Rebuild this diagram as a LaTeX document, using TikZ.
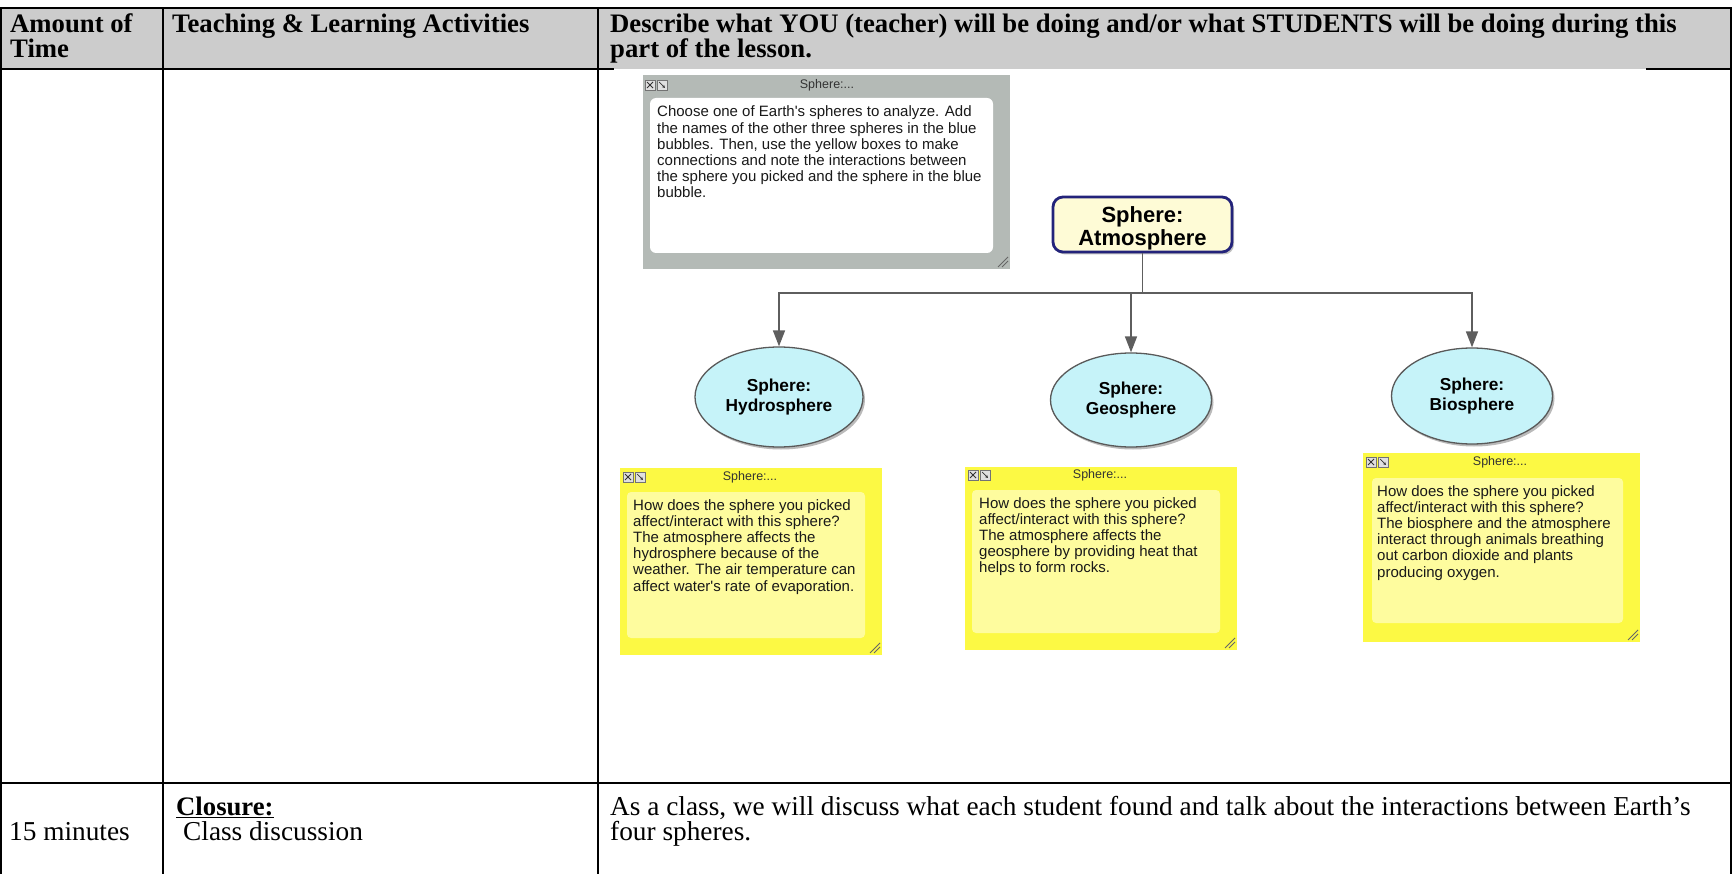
\documentclass[tikz,border=0pt]{standalone}
\usepackage{fontspec}
\setmainfont{Liberation Serif}
\newfontfamily\tabfont{Liberation Serif}
\newfontfamily\notefont{Liberation Sans}
\usetikzlibrary{shapes.geometric,arrows.meta,shadows}
\definecolor{hdrgray}{HTML}{CCCCCC}
\definecolor{notegray}{HTML}{B4BAB6}
\definecolor{yelout}{HTML}{FCF944}
\definecolor{yelin}{HTML}{FEFC9E}
\definecolor{cyanfill}{HTML}{C6F3F9}
\definecolor{atmfill}{HTML}{FEFBD6}
\definecolor{navy}{HTML}{23237A}
\definecolor{connc}{HTML}{5E5E5E}
\begin{document}
\begin{tikzpicture}[x=1pt,y=-1pt,
  tabline/.style={line width=1.8pt,black},
  hdr/.style={font=\tabfont\bfseries\fontsize{26.7}{25}\selectfont,anchor=base west,inner sep=0pt},
  bodytxt/.style={font=\tabfont\fontsize{27.3}{25}\selectfont,anchor=base west,inner sep=0pt},
  ntext/.style={font=\notefont\fontsize{15}{16}\selectfont,anchor=base west,inner sep=0pt,text=black!90},
  ntitle/.style={font=\notefont\fontsize{12.5}{14}\selectfont,inner sep=0pt,text=black!80},
  sphere/.style={ellipse,draw=black!65,line width=1.3pt,fill=cyanfill,inner sep=0pt,
    font=\notefont\bfseries\fontsize{17.3}{20}\selectfont,align=center,
    drop shadow={shadow xshift=2pt,shadow yshift=-2.5pt,opacity=0.45,fill=black!60}},
  atmbox/.style={rectangle,rounded corners=10pt,draw=navy,line width=2.8pt,fill=atmfill,
    minimum width=179pt,minimum height=55pt,inner sep=0pt,
    drop shadow={shadow xshift=2pt,shadow yshift=-2.5pt,opacity=0.4,fill=black!60}},
  atmtext/.style={font=\notefont\bfseries\fontsize{22}{23.5}\selectfont,align=center,inner sep=0pt},
  conn/.style={draw=connc,line width=1.6pt},
  arr/.style={-{Triangle[length=16pt,width=12pt]}},
  iconpair/.pic={
    \draw[black!55,line width=0.6pt,fill=black!12] (0,0) rectangle (10,10);
    \draw[black!80,line width=0.9pt] (2,2)--(8,8) (2,8)--(8,2);
    \draw[black!55,line width=0.6pt,fill=black!12] (12,0) rectangle (22,10);
    \draw[black!80,line width=0.7pt,-{Stealth[length=3pt,width=3pt]}] (14,2)--(20,8);
  },
  grip/.pic={\draw[black!60,line width=0.8pt] (-10,0)--(0,-10) (-6,0)--(0,-6);}
]
\fill[white] (0,0) rectangle (1732,874);
\useasboundingbox (0,0) rectangle (1732,874);

% ---------- table ----------
\fill[hdrgray] (1,8) rectangle (1731,69);
\draw[tabline] (0,8) -- (1732,8);
\draw[tabline] (1,8) -- (1,874);
\draw[tabline] (163,8) -- (163,874);
\draw[tabline] (598,8) -- (598,874);
\draw[tabline] (1731,8) -- (1731,874);
\draw[tabline] (0,69) -- (614,69);
\draw[tabline] (1646,69) -- (1732,69);
\draw[tabline] (0,783) -- (1732,783);

\node[hdr] (h1a) at (10,33) {Amount of};
\node[hdr] (h1b) at (10,58) {Time};
\node[hdr] (h2) at (172,33) {Teaching \& Learning Activities};
\node[hdr] (h3a) at (610,33) {Describe what YOU (teacher) will be doing and/or what STUDENTS will be doing during this};
\node[hdr] (h3b) at (610,58) {part of the lesson.};

\node[hdr] (clo) at (176,815) {\underline{Closure:}};
\node[bodytxt] (cd) at (183,840) {Class discussion};
\node[bodytxt] (t15) at (9,840) {15 minutes};
\node[bodytxt] (act1) at (610,815) {As a class, we will discuss what each student found and talk about the interactions between Earth’s};
\node[bodytxt] (act2) at (610,840) {four spheres.};

% ---------- gray instruction note ----------
\fill[notegray] (643,75) rectangle (1010,269);
\fill[white,rounded corners=6pt] (650,98) rectangle (993,253);
\node[ntitle] (gtitle) at (827,85) {Sphere:...};
\pic at (645,80) {iconpair};
\pic at (1008,267) {grip};
\foreach \t [count=\i] in {{Choose one of Earth's spheres to analyze. Add},
  {the names of the other three spheres in the blue},
  {bubbles. Then, use the yellow boxes to make},
  {connections and note the interactions between},
  {the sphere you picked and the sphere in the blue},
  {bubble.}}
  \node[ntext] (g\i) at (657,{117+16.2*(\i-1)}) {\t};

% ---------- concept map ----------
\node[atmbox] (atm) at (1142.5,224.5) {};
\node[atmtext,yshift=-4pt] (atmlbl) at (atm.center) {Sphere:\\Atmosphere};

\node[sphere,minimum width=168pt,minimum height=100pt] (hydro) at (779,397) {Sphere:\\Hydrosphere};
\node[sphere,minimum width=161pt,minimum height=94pt] (geo) at (1131,400) {Sphere:\\Geosphere};
\node[sphere,minimum width=161pt,minimum height=96pt] (bio) at (1472,396) {Sphere:\\Biosphere};

\coordinate (jy) at (0,293);
\coordinate (j) at (atm.south |- jy);
\draw[conn] (atm.south) -- (j);
\draw[conn,arr] (j) -| (hydro.north);
\draw[conn,arr] (j) -| (geo.north);
\draw[conn,arr] (j) -| (bio.north);

% ---------- yellow notes ----------
% note 1
\fill[yelout] (620,468) rectangle (882,655);
\fill[yelin,rounded corners=4pt] (627,492) rectangle (865,638);
\node[ntitle] (y1title) at (750,477) {Sphere:...};
\pic at (623,472) {iconpair};
\pic at (880,653) {grip};
\foreach \t [count=\i] in {{How does the sphere you picked},
  {affect/interact with this sphere?},
  {The atmosphere affects the},
  {hydrosphere because of the},
  {weather. The air temperature can},
  {affect water's rate of evaporation.}}
  \node[ntext] (ya\i) at (633,{510+16.2*(\i-1)}) {\t};

% note 2
\fill[yelout] (965,467) rectangle (1237,650);
\fill[yelin,rounded corners=4pt] (972,490) rectangle (1220,633);
\node[ntitle] (y2title) at (1100,475) {Sphere:...};
\pic at (968,470) {iconpair};
\pic at (1235,648) {grip};
\foreach \t [count=\i] in {{How does the sphere you picked},
  {affect/interact with this sphere?},
  {The atmosphere affects the},
  {geosphere by providing heat that},
  {helps to form rocks.}}
  \node[ntext] (yb\i) at (979,{508+16.2*(\i-1)}) {\t};

% note 3
\fill[yelout] (1363,453) rectangle (1640,642);
\fill[yelin,rounded corners=4pt] (1372,478) rectangle (1623,623);
\node[ntitle] (y3title) at (1500,462) {Sphere:...};
\pic at (1366,457) {iconpair};
\pic at (1638,640) {grip};
\foreach \t [count=\i] in {{How does the sphere you picked},
  {affect/interact with this sphere?},
  {The biosphere and the atmosphere},
  {interact through animals breathing},
  {out carbon dioxide and plants},
  {producing oxygen.}}
  \node[ntext] (yc\i) at (1377,{496+16.2*(\i-1)}) {\t};
\end{tikzpicture}
\end{document}
